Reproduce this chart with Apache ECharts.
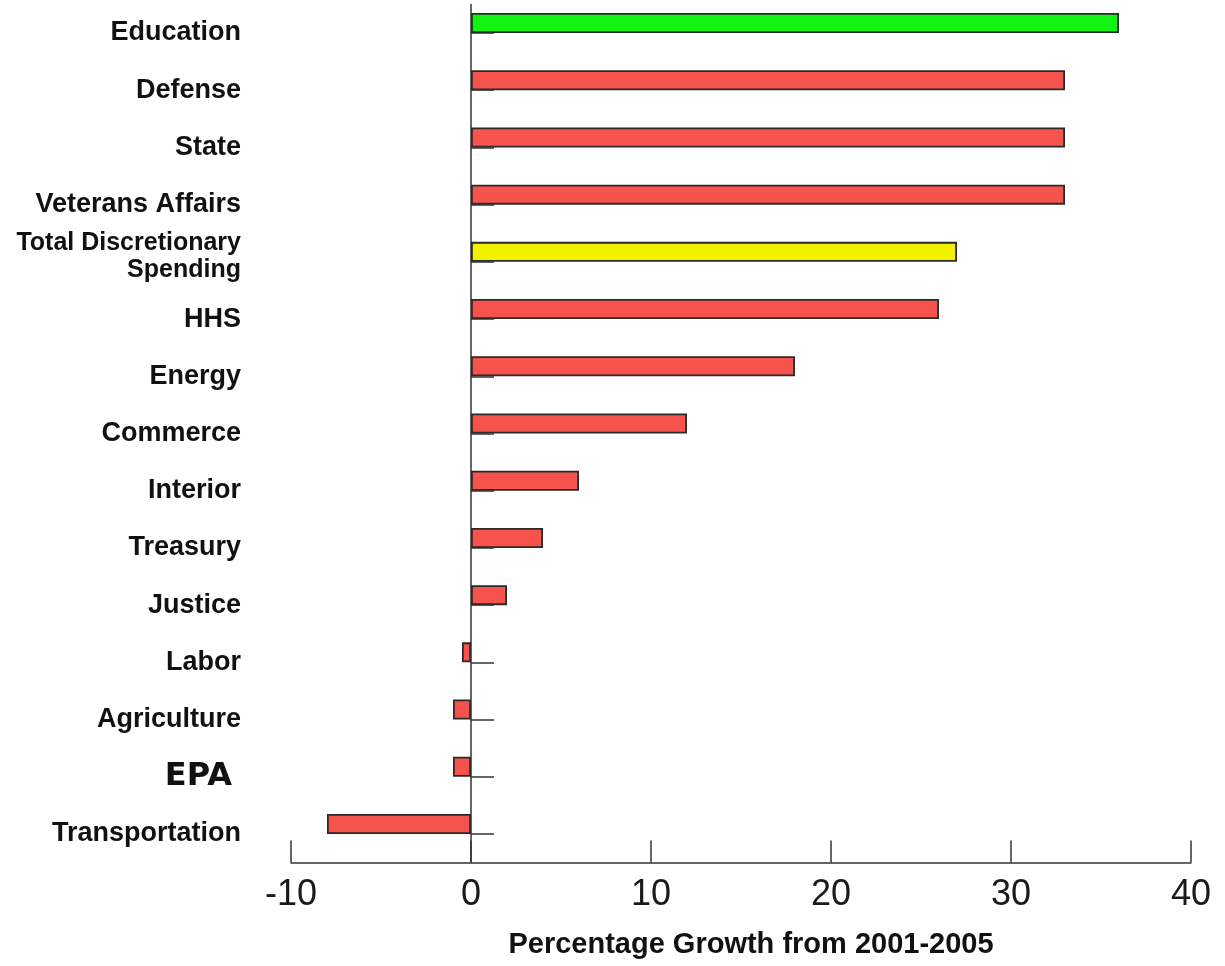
<!DOCTYPE html>
<html>
<head>
<meta charset="utf-8">
<title>Percentage Growth from 2001-2005</title>
<script src="https://cdn.jsdelivr.net/npm/echarts@6/dist/echarts.min.js"></script>
<style>
  html, body { margin: 0; padding: 0; background: #ffffff; }
  #chart { width: 1225px; height: 966px; }
</style>
</head>
<body>
<div id="chart"></div>
<script>
// Departments, top to bottom
const categories = [
  'Education', 'Defense', 'State', 'Veterans Affairs', 'Total Discretionary Spending',
  'HHS', 'Energy', 'Commerce', 'Interior', 'Treasury', 'Justice',
  'Labor', 'Agriculture', 'EPA', 'Transportation'
];

// Percentage growth in spending, 2001-2005
const growth = [36, 33, 33, 33, 27, 26, 18, 12, 6, 4, 2, -0.5, -1, -1, -8];

// X axis range and step
const xTicks = { min: -10, max: 40, step: 10 };

// Bar fill colours: default red, with two highlighted categories
const RED = '#f7534d';
const highlight = {
  'Education': '#12f312',
  'Total Discretionary Spending': '#f2f200'
};

const barData = growth.map((v, i) => ({
  value: v,
  itemStyle: { color: highlight[categories[i]] || RED }
}));

const labelFormatter = (name) => {
  if (name === 'Total Discretionary Spending') {
    return '{t|Total Discretionary}\n{t|Spending}\n{s| }';
  }
  if (name === 'EPA') return '{e|EPA}';
  return name;
};

const chart = echarts.init(document.getElementById('chart'), null, { renderer: 'canvas' });

chart.setOption({
  animation: false,
  backgroundColor: '#ffffff',
  grid: { left: 291, right: 34, top: 4.4, bottom: 103.4, containLabel: false },
  xAxis: {
    type: 'value',
    position: 'bottom',
    min: xTicks.min,
    max: xTicks.max,
    interval: xTicks.step,
    axisLine: { show: true, onZero: false, lineStyle: { color: '#333', width: 1.5 } },
    axisTick: { show: true, inside: true, length: 22, lineStyle: { color: '#333', width: 1.5 } },
    splitLine: { show: false },
    axisLabel: {
      margin: 14,
      color: '#1a1a1a',
      fontFamily: 'Liberation Sans, Arial, sans-serif',
      fontSize: 36
    },
    name: 'Percentage Growth from 2001-2005',
    nameLocation: 'middle',
    nameGap: 68,
    nameTextStyle: {
      color: '#111',
      fontFamily: 'Liberation Sans, Arial, sans-serif',
      fontWeight: 'bold',
      fontSize: 29,
      padding: [0, 0, 0, 20]
    }
  },
  yAxis: [
    {
      // category labels on the left
      type: 'category',
      data: categories,
      inverse: true,
      position: 'left',
      axisLine: { show: false, onZero: false },
      axisTick: { show: false },
      splitLine: { show: false },
      axisLabel: {
        margin: 50,
        color: '#111',
        fontFamily: 'Liberation Sans, Arial, sans-serif',
        fontWeight: 'bold',
        fontSize: 27,
        formatter: labelFormatter,
        rich: {
          t: {
            fontFamily: 'Liberation Sans, Arial, sans-serif',
            fontWeight: 'bold',
            fontSize: 25,
            lineHeight: 27,
            color: '#111',
            align: 'right'
          },
          s: { fontSize: 8, lineHeight: 10, align: 'right' },
          e: {
            fontFamily: 'DejaVu Sans, Verdana, sans-serif',
            fontWeight: 'bold',
            fontSize: 32,
            color: '#111',
            padding: [0, 9, 0, 0]
          }
        }
      }
    },
    {
      // zero line with short ticks at each category
      type: 'category',
      data: categories,
      inverse: true,
      position: 'right',
      axisLine: { show: true, onZero: true, lineStyle: { color: '#333', width: 1.5 } },
      axisTick: { show: true, inside: false, alignWithLabel: true, length: 23, lineStyle: { color: '#333', width: 1.5 } },
      axisLabel: { show: false },
      splitLine: { show: false }
    }
  ],
  series: [
    {
      type: 'bar',
      yAxisIndex: 0,
      data: barData,
      barWidth: 20,
      barGap: '0%',
      itemStyle: { borderColor: '#2a2a2a', borderWidth: 1.8 },
      z: 1
    },
    {
      type: 'bar',
      yAxisIndex: 0,
      data: categories.map(() => '-'),
      barWidth: 20,
      barGap: '0%'
    }
  ]
});
</script>
</body>
</html>
